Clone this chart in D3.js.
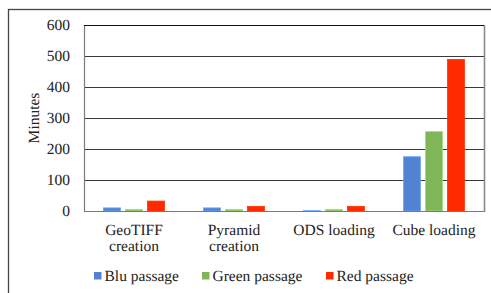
<!DOCTYPE html>
<meta charset="utf-8">
<style>
body { margin: 0; background: #fff; }
svg text { text-rendering: geometricPrecision; }
</style>
<svg width="491" height="293"></svg>
<script src="https://cdn.jsdelivr.net/npm/d3@7"></script>
<script>

var categories = [["GeoTIFF", "creation"], ["Pyramid", "creation"], ["ODS loading"], ["Cube loading"]];
var seriesNames = ["Blu passage", "Green passage", "Red passage"];
var seriesColors = ["#5283d2", "#80b558", "#ff2a00"];
var bluValues = [10, 10, 1, 175];
var greenValues = [5, 5, 5, 256];
var redValues = [32, 15, 15, 489];
var yTicks = [0, 100, 200, 300, 400, 500, 600];

var series = [bluValues, greenValues, redValues];
var serif = "'Liberation Serif', 'Times New Roman', serif";

var svg = d3.select("svg");
var plotLeft = 84, plotRight = 484, plotTop = 25, plotBottom = 211;

// outer frame (runs off the picture on the right and bottom)
svg.append("rect")
    .attr("x", 8.5).attr("y", 9.5)
    .attr("width", 500).attr("height", 300)
    .attr("fill", "none").attr("stroke", "#444").attr("stroke-width", 1.3);

var x0 = d3.scaleBand().domain(d3.range(categories.length)).range([plotLeft, plotRight]);
var x1 = d3.scaleBand().domain(d3.range(series.length))
    .range([x0.bandwidth() / 2 - 30.5, x0.bandwidth() / 2 + 30.5]).paddingInner(0.227);
var y = d3.scaleLinear().domain([0, 600]).range([plotBottom, plotTop]);

// gridlines
svg.append("g").selectAll("line")
    .data(yTicks.filter(function (d) { return d > 0; }))
    .enter().append("line")
    .attr("x1", plotLeft).attr("x2", plotRight)
    .attr("y1", function (d) { return Math.round(y(d)) + 0.5; })
    .attr("y2", function (d) { return Math.round(y(d)) + 0.5; })
    .attr("stroke", "#222").attr("stroke-width", 0.9);

function txt(sel) {
    return sel.style("font-family", serif).style("font-size", "15.5px").style("fill", "#222");
}

// y tick labels
svg.append("g").selectAll("text")
    .data(yTicks)
    .enter().append("text")
    .attr("x", 70)
    .attr("y", function (d) { return y(d) + 5; })
    .attr("text-anchor", "end")
    .call(txt)
    .text(function (d) { return d; });

// axis title
svg.append("text")
    .attr("transform", "translate(39," + ((plotTop + plotBottom) / 2) + ") rotate(-90)")
    .attr("text-anchor", "middle")
    .call(txt)
    .text("Minutes");

// bars
var groups = svg.append("g").selectAll("g")
    .data(categories)
    .enter().append("g")
    .attr("transform", function (d, i) { return "translate(" + x0(i) + ",0)"; });

groups.selectAll("rect")
    .data(function (d, i) { return series.map(function (s, k) { return { k: k, v: s[i] }; }); })
    .enter().append("rect")
    .attr("x", function (d) { return x1(d.k); })
    .attr("width", x1.bandwidth())
    .attr("y", function (d) { return y(d.v); })
    .attr("height", function (d) { return plotBottom - y(d.v); })
    .attr("fill", function (d) { return seriesColors[d.k]; })
    .attr("stroke", function (d) { return d3.color(seriesColors[d.k]).brighter(0.6); })
    .attr("stroke-width", 0.8);

// plot frame
svg.append("line").attr("x1", plotLeft + 0.5).attr("x2", plotLeft + 0.5).attr("y1", plotTop).attr("y2", plotBottom)
    .attr("stroke", "#7a7a7a").attr("stroke-width", 1.2);
svg.append("line").attr("x1", plotLeft).attr("x2", plotRight).attr("y1", plotBottom + 0.5).attr("y2", plotBottom + 0.5)
    .attr("stroke", "#7a7a7a").attr("stroke-width", 1.2);
svg.append("line").attr("x1", plotRight + 0.5).attr("x2", plotRight + 0.5).attr("y1", plotTop).attr("y2", plotBottom + 1)
    .attr("stroke", "#8a8a8a").attr("stroke-width", 1.6);
svg.append("line").attr("x1", plotLeft).attr("x2", plotRight).attr("y1", plotTop + 0.5).attr("y2", plotTop + 0.5)
    .attr("stroke", "#111").attr("stroke-width", 1);

// category labels
var labels = svg.append("g").selectAll("text")
    .data(categories)
    .enter().append("text")
    .attr("text-anchor", "middle")
    .call(txt)
    .attr("x", function (d, i) { return x0(i) + x0.bandwidth() / 2; })
    .attr("y", 235);
labels.selectAll("tspan")
    .data(function (d) { return d; })
    .enter().append("tspan")
    .attr("x", function () { return d3.select(this.parentNode).attr("x"); })
    .attr("dy", function (d, i) { return i === 0 ? 0 : 16; })
    .text(function (d) { return d; });

// legend
var legendX = [94, 202, 326];
var legend = svg.append("g").selectAll("g")
    .data(seriesNames)
    .enter().append("g")
    .attr("transform", function (d, i) { return "translate(" + legendX[i] + ",272)"; });
legend.append("rect")
    .attr("width", 7.5).attr("height", 7.5)
    .attr("fill", function (d, i) { return seriesColors[i]; });
legend.append("text")
    .attr("x", 10.5).attr("y", 8.5)
    .call(txt)
    .text(function (d) { return d; });

</script>
